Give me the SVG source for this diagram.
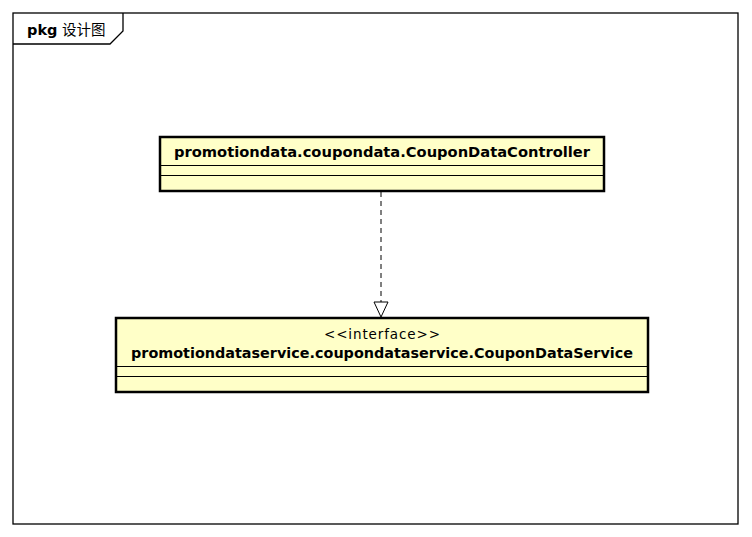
<svg xmlns="http://www.w3.org/2000/svg" width="752" height="537" viewBox="0 0 752 537">
<style>
.frame{fill:#fff;stroke:#000;stroke-width:1.3}
.cls{fill:#ffffc8;stroke:#000;stroke-width:2.5}
.sep{stroke:#000;stroke-width:1}
.name{font-family:"DejaVu Sans",sans-serif;font-weight:bold;font-size:13.5px;text-anchor:middle}
.ster{font-family:"DejaVu Sans",sans-serif;font-size:13.5px;text-anchor:middle}
.tab{font-family:"DejaVu Sans","Noto Sans CJK SC",sans-serif;font-size:14.5px}
.dep{fill:none;stroke:#000;stroke-width:1;stroke-dasharray:5,4}
</style>
<defs>
<marker id="tri" markerWidth="18" markerHeight="18" refX="16" refY="8" orient="auto" markerUnits="userSpaceOnUse">
<path d="M1,1 L16,8 L1,15 Z" fill="#fff" stroke="#000" stroke-width="1"/>
</marker>
</defs>
<rect width="752" height="537" fill="#fff"/>
<g id="frame">
<rect class="frame" x="13" y="13" width="725" height="511"/>
<path d="M13,44 L110,44 L123,31 L123,13" fill="none" stroke="#000" stroke-width="1.3"/>
<text class="tab" x="27" y="35"><tspan font-weight="bold">pkg</tspan> 设计图</text>
</g>
<g id="connectors">
<path class="dep" d="M381,192 L381,317" marker-end="url(#tri)"/>
</g>
<g id="CouponDataController">
<rect class="cls" x="160" y="137" width="444" height="54"/>
<line class="sep" x1="160" y1="165.5" x2="604" y2="165.5"/>
<line class="sep" x1="160" y1="175.5" x2="604" y2="175.5"/>
<text class="name" x="382" y="157" textLength="416" lengthAdjust="spacingAndGlyphs">promotiondata.coupondata.CouponDataController</text>
</g>
<g id="CouponDataService">
<rect class="cls" x="116" y="318" width="532" height="74"/>
<line class="sep" x1="116" y1="366.5" x2="648" y2="366.5"/>
<line class="sep" x1="116" y1="376.5" x2="648" y2="376.5"/>
<text class="ster" x="382" y="339" textLength="116" lengthAdjust="spacing">&lt;&lt;interface&gt;&gt;</text>
<text class="name" x="382" y="358" textLength="502" lengthAdjust="spacingAndGlyphs">promotiondataservice.coupondataservice.CouponDataService</text>
</g>
</svg>
